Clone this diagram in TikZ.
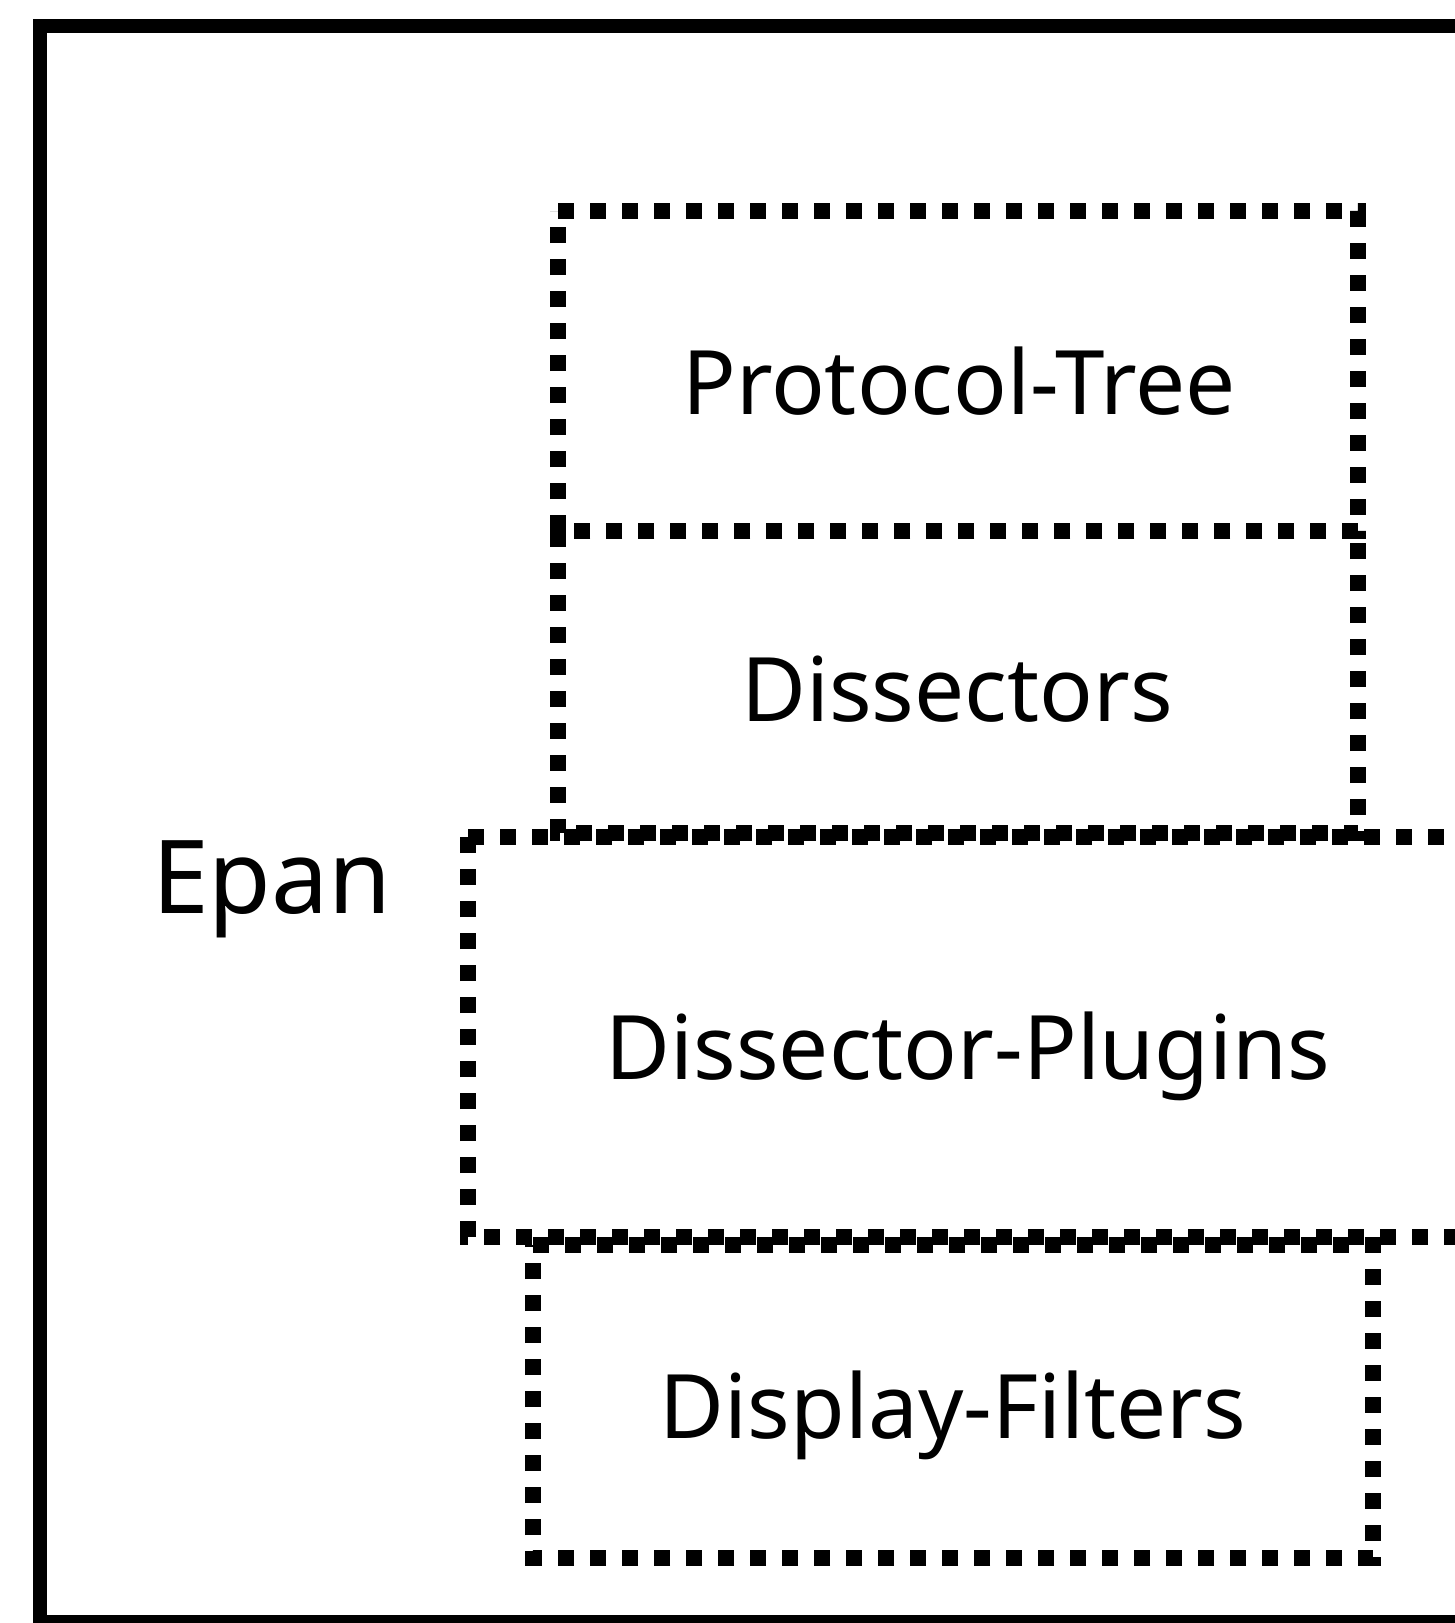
\documentclass[tikz,border=0pt]{standalone}
\usepackage{fontspec}
\setmainfont{Noto Sans}

\begin{document}
\begin{tikzpicture}[x=0.5pt, y=-0.5pt,
    layer/.style={line width=8pt, dash pattern=on 8pt off 8pt},
    layertext/.style={anchor=base, font=\fontsize{44.5}{53}\selectfont}]
    \clip (0,0) rectangle (1455,1623);
    \fill[white] (0,0) rectangle (1455,1623);
    % outer frame
    \draw[line width=7pt] (40,26) rectangle (1520,1622);
    \node[anchor=base, font=\fontsize{51}{61}\selectfont] (epan) at (272,913) {Epan};
    % layers
    \draw[layer] (558,211) -- (1358,211) -- (1358,531) -- (558,531) -- cycle;
    \node[layertext] (tree) at (959,414) {Protocol-Tree};
    \draw[layer] (1358,531) -- (558,531) -- (558,833) -- (1358,833) -- cycle;
    \node[layertext] (dissectors) at (957,721) {Dissectors};
    \draw[layer] (468,837) -- (1468,837) -- (1468,1237) -- (468,1237) -- cycle;
    \node[layertext] (plugins) at (968,1079) {Dissector-Plugins};
    \draw[layer] (533,1245) -- (1373,1245) -- (1373,1558) -- (533,1558) -- cycle;
    \node[layertext] (filters) at (953,1438) {Display-Filters};
\end{tikzpicture}
\end{document}
